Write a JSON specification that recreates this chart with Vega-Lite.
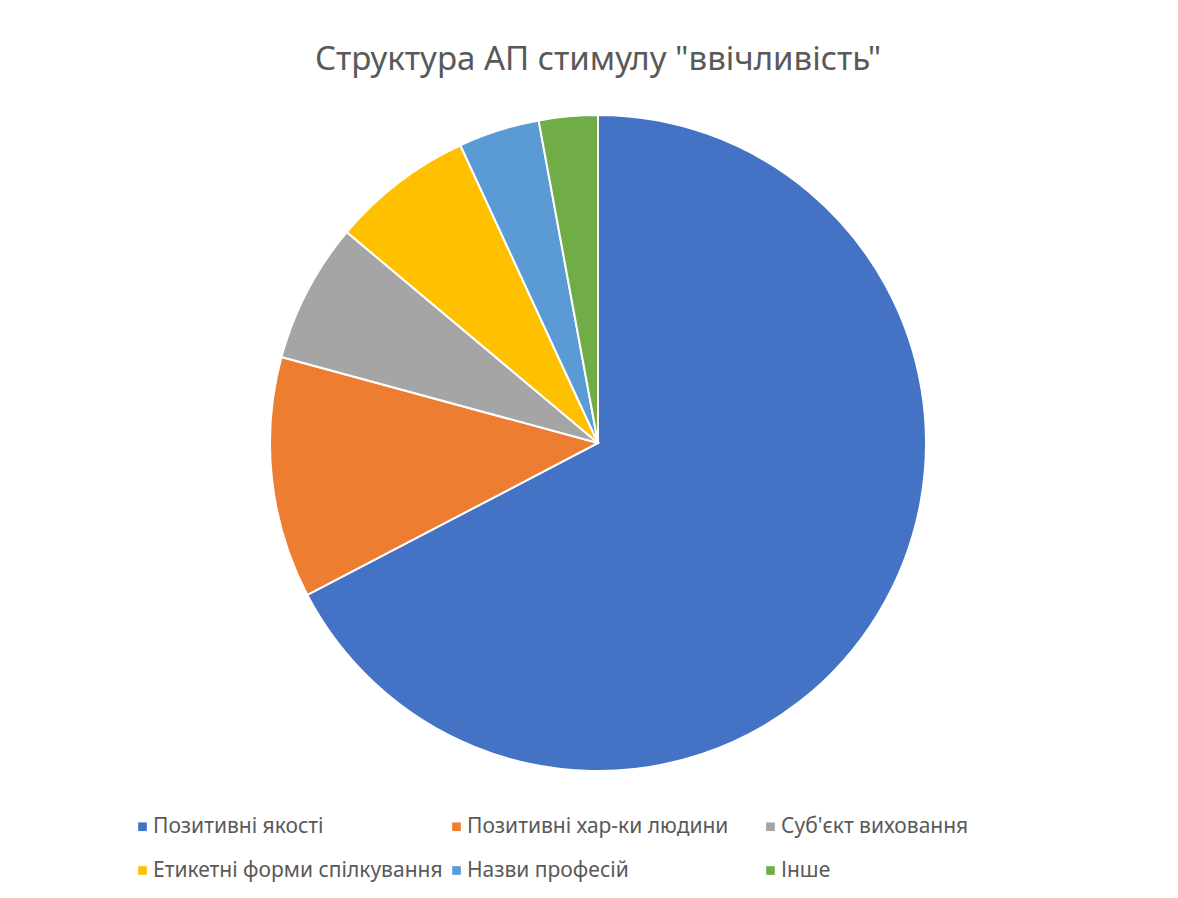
{
  "$schema": "https://vega.github.io/schema/vega-lite/v6.json",
  "autosize": "none",
  "width": 656,
  "height": 656,
  "padding": {"left": 270, "top": 115, "right": 252, "bottom": 127},
  "background": "white",
  "title": {
    "text": "Структура АП стимулу \"ввічливість\"",
    "font": "Noto Sans",
    "fontSize": 33,
    "fontWeight": "normal",
    "color": "#595959",
    "anchor": "middle",
    "offset": 34
  },
  "data": {
    "values": [
      {"category": "Позитивні якості", "value": 67.4, "order": 1},
      {"category": "Позитивні хар-ки людини", "value": 11.9, "order": 2},
      {"category": "Суб'єкт виховання", "value": 6.9, "order": 3},
      {"category": "Етикетні форми спілкування", "value": 7.0, "order": 4},
      {"category": "Назви професій", "value": 4.0, "order": 5},
      {"category": "Інше", "value": 2.9, "order": 6}
    ]
  },
  "mark": {"type": "arc", "stroke": "white", "strokeWidth": 2},
  "encoding": {
    "theta": {"field": "value", "type": "quantitative", "stack": true},
    "order": {"field": "order", "type": "quantitative"},
    "color": {
      "field": "category",
      "type": "nominal",
      "sort": null,
      "scale": {
        "domain": ["Позитивні якості", "Позитивні хар-ки людини", "Суб'єкт виховання", "Етикетні форми спілкування", "Назви професій", "Інше"],
        "range": ["#4472C4", "#ED7D31", "#A5A5A5", "#FFC000", "#5B9BD5", "#70AD47"]
      },
      "legend": {
        "title": null,
        "orient": "none",
        "legendX": -138,
        "legendY": 701,
        "direction": "horizontal",
        "columns": 3,
        "gridAlign": "all",
        "columnPadding": 3,
        "rowPadding": 22,
        "symbolType": "square",
        "symbolSize": 75,
        "symbolStrokeWidth": 0,
        "labelFont": "Noto Sans",
        "labelFontSize": 21,
        "labelColor": "#595959",
        "labelOffset": 0,
        "labelLimit": 400
      }
    }
  },
  "config": {"view": {"stroke": null}}
}
